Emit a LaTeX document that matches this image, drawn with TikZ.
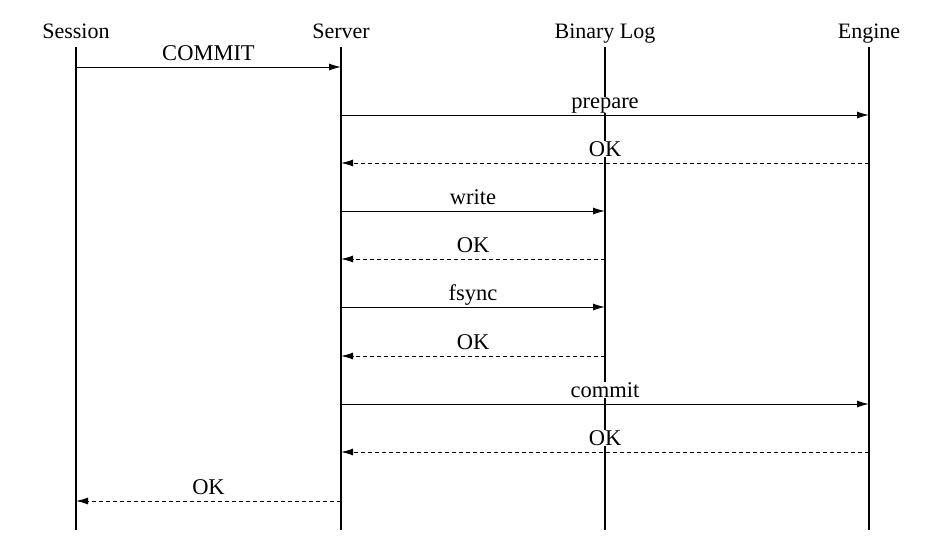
\documentclass[tikz,border=0pt]{standalone}
\usepackage{fontspec}
\setmainfont{Liberation Serif}
\usetikzlibrary{arrows.meta}

\tikzset{
  actor/.style={anchor=base, inner sep=0pt, font=\fontsize{22}{26}\selectfont},
  life/.style={line width=1.2pt},
  call/.style={line width=1pt, -{Latex[length=12pt,width=7pt]}},
  reply/.style={line width=1pt, dash pattern=on 4pt off 3pt, -{Latex[length=12pt,width=7pt]}},
  lbl/.style={midway, anchor=base, yshift=7pt, inner sep=0.5pt, fill=white, font=\fontsize{22.5}{26}\selectfont}
}

\begin{document}
\begin{tikzpicture}[x=1pt, y=-1pt]
\useasboundingbox (0,0) rectangle (938,552);

% Participants
\node[actor] (session) at (76,38) {Session};
\node[actor] (server) at (341,38) {Server};
\node[actor] (binlog) at (605,38) {Binary Log};
\node[actor] (engine) at (869,38) {Engine};

% Lifelines
\draw[life] (session |- 0,47) -- (session |- 0,530);
\draw[life] (server |- 0,47) -- (server |- 0,530);
\draw[life] (binlog |- 0,47) -- (binlog |- 0,530);
\draw[life] (engine |- 0,47) -- (engine |- 0,530);

% Messages
\draw[call] (session |- 0,67) -- node[lbl] {COMMIT} (server |- 0,67);
\draw[call] (server |- 0,115) -- node[lbl] {prepare} (engine |- 0,115);
\draw[reply] (engine |- 0,163) -- node[lbl] {OK} (server |- 0,163);
\draw[call] (server |- 0,211) -- node[lbl] {write} (binlog |- 0,211);
\draw[reply] (binlog |- 0,259) -- node[lbl] {OK} (server |- 0,259);
\draw[call] (server |- 0,307) -- node[lbl] {fsync} (binlog |- 0,307);
\draw[reply] (binlog |- 0,356) -- node[lbl] {OK} (server |- 0,356);
\draw[call] (server |- 0,404) -- node[lbl] {commit} (engine |- 0,404);
\draw[reply] (engine |- 0,452) -- node[lbl] {OK} (server |- 0,452);
\draw[reply] (server |- 0,501) -- node[lbl] {OK} (session |- 0,501);
\end{tikzpicture}
\end{document}
